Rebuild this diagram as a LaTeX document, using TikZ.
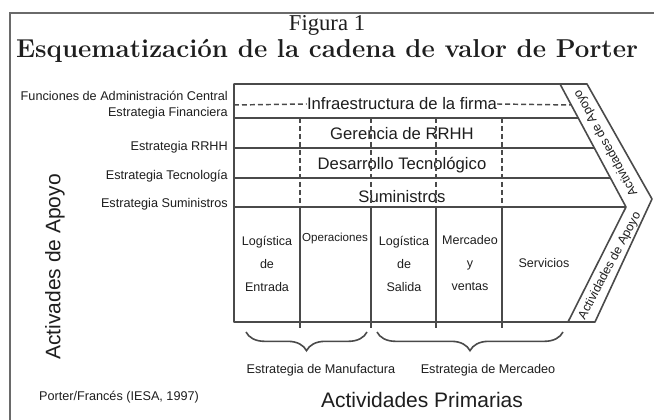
\documentclass[tikz,border=0pt]{standalone}
\usepackage{fontspec}
\setsansfont{Liberation Sans}
\newfontfamily\figfont{Liberation Serif}
\usetikzlibrary{decorations.pathreplacing}
\definecolor{lncol}{HTML}{4A4A4A}
\definecolor{txcol}{HTML}{1E1E1E}
\definecolor{frcol}{HTML}{6A6A6A}
\begin{document}
\begin{tikzpicture}[x=0.75pt,y=-0.75pt,
  ln/.style={draw=lncol, line width=1.2pt, line join=round},
  dsh/.style={draw=lncol, line width=1.1pt, dash pattern=on 3.6pt off 2.4pt},
  lab/.style={font=\sffamily\fontsize{9.5}{11}\selectfont, text=txcol, inner sep=0pt},
  rowlab/.style={font=\sffamily\fontsize{12.5}{14}\selectfont, text=txcol, inner sep=0pt},
  prim/.style={font=\sffamily\fontsize{9.4}{17}\selectfont, text=txcol, inner sep=0pt, align=center},
  big/.style={font=\sffamily\fontsize{15.75}{18}\selectfont, text=txcol, inner sep=0pt},
  band/.style={font=\sffamily\fontsize{9.3}{11}\selectfont, text=txcol, inner sep=0pt},
  brc/.style={draw=lncol, line width=1.2pt, decorate, decoration={brace, mirror, amplitude=14pt}}]
\useasboundingbox (0,0) rectangle (654,420);
\fill[white] (0,0) rectangle (654,420);
% frame
\draw[frcol, line width=1.5pt] (10,420) -- (10,13) -- (654,13);
% title
\node[font=\figfont\fontsize{17}{20}\selectfont, text=txcol, inner sep=0pt] (fig) at (327,25) {Figura 1};
\node[font=\rmfamily\bfseries\fontsize{19.4}{23}\selectfont, text=txcol, inner sep=0pt] (tit) at (327,51) {Esquematización de la cadena de valor de Porter};
% main shape
\coordinate (tl) at (234,84);
\coordinate (tr) at (587,84);
\coordinate (tip) at (652,199);
\coordinate (br) at (595,322);
\coordinate (bl) at (234,322);
\coordinate (itop) at (560,84);
\coordinate (itip) at (626,207);
\coordinate (ibot) at (568,322);
\draw[ln] (tl) -- (tr) -- (tip) -- (br) -- (bl) -- cycle;
\draw[ln] (itop) -- (itip) -- (ibot);
% rows
\draw[ln] (234,118) -- (578,118);
\draw[ln] (234,148) -- (594,148);
\draw[ln] (234,178) -- (610,178);
\draw[ln] (234,207) -- (itip);
% infrastructure
\node[rowlab] (infra) at (402,104) {Infraestructura de la firma};
\draw[dsh] (234,105) -- (infra.west);
\draw[dsh] (infra.east) -- (571,105);
\node[rowlab] (rrhh) at (402,134) {Gerencia de RRHH};
\node[rowlab] (tec) at (402,165) {Desarrollo Tecnológico};
\node[rowlab] (sum) at (402,197) {Suministros};
% verticals
\foreach \x in {300,371,436,502}{
  \draw[dsh] (\x,118) -- (\x,207);
  \draw[ln] (\x,207) -- (\x,328);
}
% left labels
\node[lab, anchor=east] (l1) at (228,96) {Funciones de Administración Central};
\node[lab, anchor=east] (l2) at (228,113) {Estrategia Financiera};
\node[lab, anchor=east] (l3) at (228,147) {Estrategia RRHH};
\node[lab, anchor=east] (l4) at (228,176) {Estrategia Tecnología};
\node[lab, anchor=east] (l5) at (228,204) {Estrategia Suministros};
% primary
\node[prim] (le) at (267,264) {Logística\\de\\Entrada};
\node[prim, font=\sffamily\fontsize{8.7}{17}\selectfont] (op) at (335,239) {Operaciones};
\node[prim] (ls) at (404,264) {Logística\\de\\Salida};
\node[prim] (mv) at (470,263) {Mercadeo\\y\\ventas};
\node[prim] (sv) at (544,263) {Servicios};
% band texts
\node[band, rotate=119] (b1) at (606,143) {Actividades de Apoyo};
\node[band, rotate=62] (b2) at (610,266) {Actividades de Apoyo};
% braces
\draw[brc] (246,332) -- (367,332);
\draw[brc] (377,332) -- (563,332);
\node[lab] (em) at (321,370) {Estrategia de Manufactura};
\node[lab] (emc) at (488,370) {Estrategia de Mercadeo};
\node[big] (ap) at (422,400) {Actividades Primarias};
\node[lab] (src) at (119,397) {Porter/Francés (IESA, 1997)};
\node[big, rotate=90] (aa) at (55,267) {Activades de Apoyo};
\end{tikzpicture}
\end{document}
